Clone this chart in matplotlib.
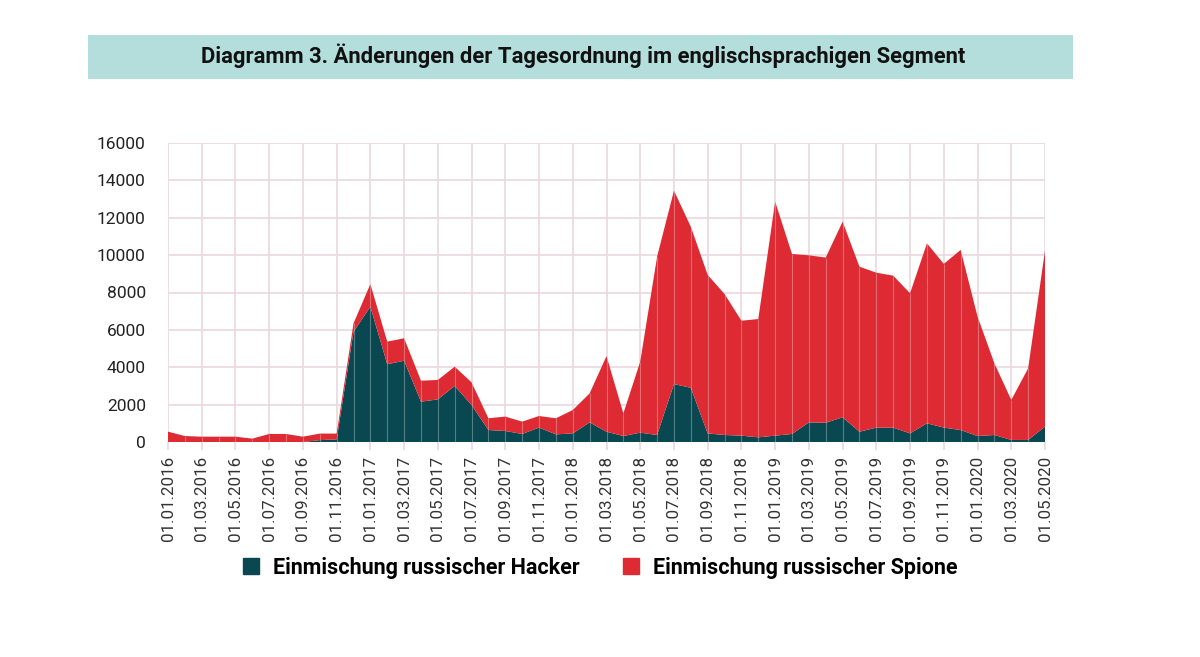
import matplotlib
matplotlib.use("Agg")
import matplotlib.pyplot as plt
from matplotlib.patches import Rectangle
from matplotlib.lines import Line2D
import numpy as np

# ---- data ----
start_year, start_month = 2016, 1
total = [553, 320, 285, 285, 285, 180, 430, 430, 285, 450, 450,
         6350, 8450, 5370, 5550, 3280, 3320, 4030, 3190, 1270, 1360, 1090, 1390, 1270, 1710, 2600,
         4600, 1530, 4300, 9920, 13450, 11520, 8940, 7920, 6490, 6580, 12860, 10060, 9990, 9870,
         11790, 9380, 9060, 8900, 7960, 10630, 9530, 10280, 6710, 4210, 2250, 3940, 10240]
hacker = [0, 0, 0, 0, 0, 0, 0, 0, 0, 100, 140,
          5900, 7240, 4160, 4350, 2160, 2280, 3000, 1980, 640, 590, 430, 770, 410, 460, 1050,
          550, 320, 500, 375, 3100, 2900, 460, 375, 340, 250, 340, 430, 1050, 1030,
          1320, 550, 770, 770, 460, 1000, 770, 640, 320, 375, 110, 110, 820]
spione = [t - h for t, h in zip(total, hacker)]
series_names = ["Einmischung russischer Hacker", "Einmischung russischer Spione"]
title = "Diagramm 3. Änderungen der Tagesordnung im englischsprachigen Segment"

n = len(total)
labels = []
for i in range(n):
    m = (start_month - 1 + i) % 12 + 1
    y = start_year + (start_month - 1 + i) // 12
    labels.append(f"01.{m:02d}.{y}")

c_hack = "#0a4851"
c_spy = "#dd2a33"
c_grid = "#ead8df"

plt.rcParams['font.family'] = ['Roboto', 'DejaVu Sans']

fig = plt.figure(figsize=(12, 6.57), dpi=100)
fig.patch.set_facecolor("white")

# title box
fig.patches.append(Rectangle((88/1200, 1-79/657), (1073-88)/1200, 44/657,
                             transform=fig.transFigure, facecolor="#b3dedb",
                             edgecolor="none", zorder=0))
fig.text(583/1200, 1-56/657, title, ha="center", va="center",
         fontsize=15.8, fontweight="bold", color="#111111")

ax = fig.add_axes([168/1200, 1-442/657, (1045-168)/1200, (442-143)/657])
x = np.arange(n)
ax.stackplot(x, hacker, spione, colors=[c_hack, c_spy], linewidth=0, zorder=2)
# faint month seams over the areas
ax.vlines(x[1:-1], 0, np.array(total)[1:-1], colors="white", alpha=0.3,
          linewidth=0.8, zorder=3)

ax.set_xlim(0, n - 1)
ax.set_ylim(0, 16000)
ax.set_yticks(np.arange(0, 16001, 2000))
ax.set_xticks(x[::2])
ax.set_xticklabels(labels[::2], rotation=90, fontsize=12.2, color="#333333")
ax.tick_params(axis="y", length=0, labelsize=12.5, labelcolor="#222222", pad=16)
ax.tick_params(axis="x", length=6, color=c_grid, width=1.2, pad=4)
ax.grid(True, color=c_grid, linewidth=1.2, zorder=1)
ax.set_axisbelow(True)
for s in ax.spines.values():
    s.set_visible(False)

handles = [Line2D([], [], marker="s", linestyle="none", markersize=11, color=c_hack),
           Line2D([], [], marker="s", linestyle="none", markersize=11, color=c_spy)]
fig.legend(handles, series_names, loc="center", bbox_to_anchor=(600/1200, 1-568/657),
           ncol=2, frameon=False, prop={"size": 15.5, "weight": "bold"},
           handlelength=0.8, handletextpad=0.6, columnspacing=2.0)

fig.savefig("out.png", dpi=100)
